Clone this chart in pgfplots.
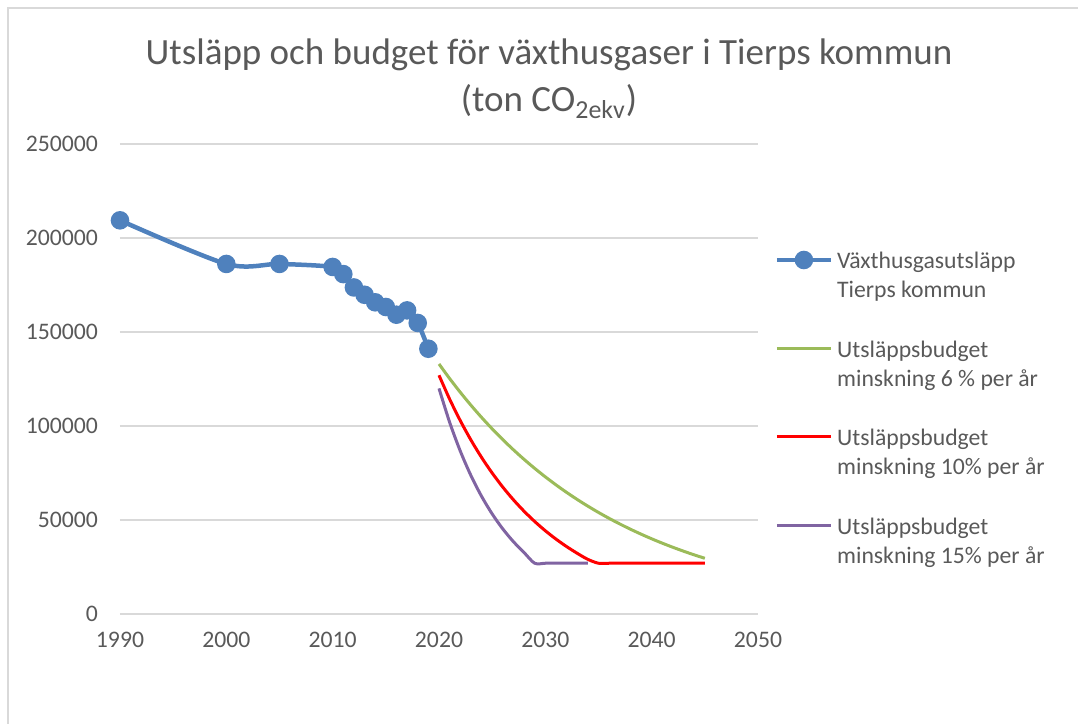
\documentclass[border=0pt]{standalone}
\usepackage{fontspec}
\setmainfont{Carlito}
\usepackage{pgfplots}
\pgfplotsset{compat=1.18}
\definecolor{txtgray}{HTML}{595959}
\definecolor{gridgray}{HTML}{D9D9D9}
\definecolor{sblue}{HTML}{4F81BD}
\definecolor{sgreen}{HTML}{9BBB59}
\definecolor{sred}{HTML}{FF0000}
\definecolor{spurple}{HTML}{8064A2}
\begin{document}
\begin{tikzpicture}
\path[use as bounding box] (0,0) rectangle (539pt,362pt);
\draw[gridgray, line width=1pt] (4pt,0) -- (4pt,358pt) -- (539pt,358pt);
\node[anchor=base, text=txtgray, font=\fontsize{18.5}{22}\selectfont] at (274.5pt,329.5pt) {Utsläpp och budget för växthusgaser i Tierps kommun};
\node[anchor=base, text=txtgray, font=\fontsize{18.5}{22}\selectfont] at (274.5pt,306pt) {(ton CO\textsubscript{2ekv})};
\begin{axis}[
  at={(60pt,55pt)}, anchor=south west,
  scale only axis, width=319pt, height=235pt,
  xmin=1990, xmax=2050, ymin=0, ymax=250000,
  xtick={1990,2000,...,2050}, ytick={0,50000,...,250000},
  scaled y ticks=false,
  /pgf/number format/.cd, fixed, 1000 sep={}, assume math mode=true,
  /pgfplots/.cd,
  axis line style={draw=none},
  major tick length=0pt,
  ymajorgrids, grid style={gridgray, line width=0.75pt},
  tick label style={font=\fontsize{11.85}{14}\selectfont, text=txtgray},
  xticklabel style={yshift=-5.5pt},
  yticklabel style={xshift=-7.5pt},
  clip=false,
  legend cell align=left,
  legend style={draw=none, fill=none, at={(1.0255,0.779)}, anchor=north west,
    font=\fontsize{11.85}{14.5}\selectfont, text=txtgray, row sep=30.5pt, inner sep=0pt,
    /tikz/every even column/.append style={column sep=2.5pt}},
  legend image code/.code={\draw[mark repeat=2,mark phase=2,#1] plot coordinates {(0pt,1pt) (13.5pt,1pt) (27pt,1pt)};},
]
\addplot[sblue, line width=2.25pt, smooth, tension=0.5, mark=*, mark size=3.5pt, mark options={fill=sblue, draw=sblue}] coordinates {
(1990,209400) (2000,186200) (2005,186200) (2010,184600) (2011,180800) (2012,173700) (2013,169800) (2014,165800) (2015,163300) (2016,159200) (2017,161500) (2018,154800) (2019,141100)};
\addlegendentry{\parbox[t]{100pt}{Växthusgasutsläpp\\Tierps kommun}}
\addplot[sgreen, line width=1.5pt, smooth, no markers] coordinates {
(2020,133000) (2021,125246) (2022,117944) (2023,111068) (2024,104593) (2025,98495) (2026,92753) (2027,87345) (2028,82253) (2029,77457) (2030,72942) (2031,68689) (2032,64685) (2033,60914) (2034,57363) (2035,54018) (2036,50869) (2037,47903) (2038,45111) (2039,42481) (2040,40004) (2041,37672) (2042,35476) (2043,33407) (2044,31460) (2045,29626)};
\addlegendentry{\parbox[t]{110pt}{Utsläppsbudget\\minskning 6 \% per år}}
\addplot[sred, line width=1.5pt, smooth, no markers] coordinates {
(2020,127000) (2021,114300) (2022,102870) (2023,92583) (2024,83325) (2025,74992) (2026,67493) (2027,60744) (2028,54670) (2029,49203) (2030,44283) (2031,39855) (2032,35870) (2033,32283) (2034,29055) (2035,27000) (2036,27000) (2037,27000) (2038,27000) (2039,27000) (2040,27000) (2041,27000) (2042,27000) (2043,27000) (2044,27000) (2045,27000)};
\addlegendentry{\parbox[t]{110pt}{Utsläppsbudget\\minskning 10\% per år}}
\addplot[spurple, line width=1.5pt, smooth, no markers] coordinates {
(2020,120000) (2021,102000) (2022,86700) (2023,73695) (2024,62641) (2025,53245) (2026,45258) (2027,38469) (2028,32699) (2029,27000) (2030,27000) (2031,27000) (2032,27000) (2033,27000) (2034,27000)};
\addlegendentry{\parbox[t]{110pt}{Utsläppsbudget\\minskning 15\% per år}}
\end{axis}
\end{tikzpicture}
\end{document}
